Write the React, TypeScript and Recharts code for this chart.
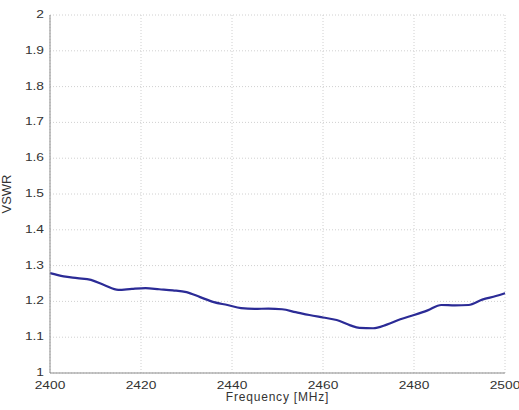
import React from 'react';
import {
  LineChart,
  Line,
  XAxis,
  YAxis,
  CartesianGrid,
} from 'recharts';

const freq = [
  2400, 2403, 2406, 2409, 2412, 2415, 2418, 2421, 2424, 2427, 2430, 2433,
  2436, 2439, 2442, 2445, 2448, 2451, 2454, 2457, 2460, 2463, 2466, 2468,
  2471, 2474, 2477, 2480, 2483, 2486, 2489, 2492, 2495, 2498, 2500,
];
const vswr = [
  1.279, 1.27, 1.265, 1.26, 1.245, 1.232, 1.235, 1.237, 1.234, 1.231, 1.226,
  1.212, 1.198, 1.19, 1.181, 1.179, 1.18, 1.178, 1.17, 1.162, 1.155, 1.148,
  1.133, 1.126, 1.125, 1.135, 1.15, 1.162, 1.175, 1.19, 1.189, 1.19, 1.205,
  1.215, 1.223,
];
const xTicks = [2400, 2420, 2440, 2460, 2480, 2500];
const yTicks = [1, 1.1, 1.2, 1.3, 1.4, 1.5, 1.6, 1.7, 1.8, 1.9, 2];

const data = freq.map((f, i) => ({ f, v: vswr[i] }));

const font = '"Liberation Sans", Arial, sans-serif';

const XTick = (props: any) => {
  const { x, y, payload } = props;
  return (
    <g transform={`translate(${x},${y}) scale(1.25,1)`}>
      <text x={0} y={0} dy={14} textAnchor="middle" fontSize={11} fontFamily={font} fill="#333">
        {payload.value}
      </text>
    </g>
  );
};

const YTick = (props: any) => {
  const { x, y, payload } = props;
  return (
    <g transform={`translate(${x - 4},${y}) scale(1.25,1)`}>
      <text x={0} y={0} dy={3} textAnchor="end" fontSize={11} fontFamily={font} fill="#333">
        {Number(payload.value.toFixed(1)).toString()}
      </text>
    </g>
  );
};

export default function App() {
  return (
    <div style={{ position: 'absolute', left: 0, top: 0, background: '#fff' }}>
      <LineChart
        width={519}
        height={410}
        data={data}
        margin={{ top: 15, right: 14, left: 0, bottom: 7 }}
      >
        <CartesianGrid stroke="#d0d0d0" strokeDasharray="1 2" />
        <XAxis
          dataKey="f"
          type="number"
          domain={[2400, 2500]}
          ticks={xTicks}
          height={30}
          tickSize={0}
          tick={<XTick />}
          stroke="#8c8c8c"
          interval={0}
          label={{
            value: 'Frequency [MHz]',
            position: 'insideBottom',
            offset: 2,
            fontSize: 12,
            fontFamily: font,
            fill: '#333',
            letterSpacing: 0.8,
          }}
        />
        <XAxis
          xAxisId="top"
          orientation="top"
          dataKey="f"
          type="number"
          domain={[2400, 2500]}
          height={0}
          tick={false}
          tickLine={false}
          stroke="#8c8c8c"
        />
        <YAxis
          type="number"
          domain={[1, 2]}
          ticks={yTicks}
          width={50}
          tickSize={0}
          tick={<YTick />}
          stroke="#8c8c8c"
          interval={0}
          label={{
            value: 'VSWR',
            angle: -90,
            position: 'insideLeft',
            offset: 6,
            fontSize: 13,
            fontFamily: font,
            fill: '#333',
            style: { textAnchor: 'middle' },
          }}
        />
        <YAxis
          yAxisId="right"
          orientation="right"
          domain={[1, 2]}
          width={0}
          tick={false}
          tickLine={false}
          stroke="#8c8c8c"
        />
        <Line
          dataKey="v"
          type="monotone"
          stroke="#2b2b96"
          strokeWidth={2.2}
          dot={false}
          isAnimationActive={false}
        />
      </LineChart>
    </div>
  );
}
